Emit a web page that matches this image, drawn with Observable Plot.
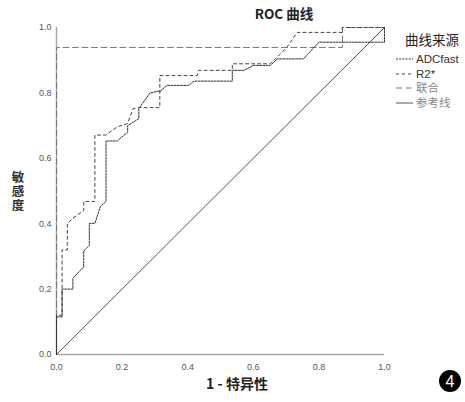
<!DOCTYPE html>
<html><head><meta charset="utf-8">
<script src="https://cdn.jsdelivr.net/npm/d3@7"></script>
<script src="https://cdn.jsdelivr.net/npm/@observablehq/plot@0.6"></script>
<style>body{margin:0;background:#fff;} #chart{width:465px;height:402px;}</style>
</head><body><div id="chart"></div>
<script>
// ---- data ----
const adcX = [0,0,0.017,0.017,0.05,0.05,0.083,0.083,0.1,0.1,0.117,0.134,0.151,0.151,0.185,0.217,0.217,0.251,0.251,0.285,0.317,0.337,0.403,0.419,0.536,0.536,0.571,0.60,0.652,0.673,0.753,0.80,1,1];
const adcY = [0,0.115,0.115,0.2,0.2,0.233,0.268,0.316,0.334,0.401,0.401,0.453,0.468,0.653,0.653,0.68,0.70,0.721,0.752,0.80,0.806,0.823,0.823,0.836,0.836,0.869,0.869,0.884,0.884,0.904,0.904,0.955,0.955,1];
const r2X = [0,0,0.017,0.017,0.033,0.033,0.05,0.083,0.083,0.117,0.117,0.15,0.185,0.216,0.234,0.251,0.315,0.315,0.429,0.434,0.536,0.536,0.652,0.683,0.703,0.734,0.871,0.871,1];
const r2Y = [0,0.12,0.12,0.32,0.32,0.40,0.417,0.44,0.468,0.468,0.671,0.671,0.696,0.706,0.752,0.755,0.755,0.853,0.853,0.869,0.869,0.889,0.889,0.92,0.94,0.985,0.985,1,1];
const combX = [0,0,0.872,0.872,1];
const combY = [0,0.939,0.939,1,1];
const refX = [0,1];
const refY = [0,1];
const seriesNames = ["ADCfast","R2*","联合","参考线"];
const seriesColors = ["#333","#444","#777","#555"];
const seriesDash = ["2,1.2","3,3","6,3.5",null];
const legendTextColors = ["#333","#333","#888","#888"];
const ticks = [0,0.2,0.4,0.6,0.8,1.0];
const titleText = "ROC 曲线";
const xLabel = "1 - 特异性";
const yLabel = "敏感度";
const legendTitle = "曲线来源";
const badge = "4";

const toRows = (xs, ys) => xs.map((x,i)=>({x, y: ys[i]}));
const seriesData = [toRows(adcX,adcY), toRows(r2X,r2Y), toRows(combX,combY), toRows(refX,refY)];

const font = "'Liberation Sans', Arial, 'Noto Sans CJK SC', sans-serif";
const cjk = "'Noto Sans CJK SC', 'Liberation Sans', sans-serif";

const lineMarks = seriesData.map((d,i)=>Plot.line(d,{x:"x",y:"y",stroke:seriesColors[i],strokeWidth:1,strokeDasharray:seriesDash[i]||undefined}));

const plot = Plot.plot({
  width:465, height:402,
  marginLeft:56, marginRight:81, marginTop:27, marginBottom:48,
  style:{fontFamily:font, background:"#fff", overflow:"visible"},
  x:{domain:[0,1]},
  y:{domain:[0,1]},
  marks:[
    Plot.axisX({ticks, tickFormat:d3.format(".1f"), tickSize:0, tickPadding:9, fill:"#555", fontSize:9, label:null}),
    Plot.axisY({ticks, tickFormat:d3.format(".1f"), tickSize:0, tickPadding:5, fill:"#555", fontSize:9, label:null}),
    Plot.ruleX([0],{stroke:"#aaa", strokeWidth:1.5}),
    Plot.ruleY([0],{stroke:"#aaa", strokeWidth:1.5}),
    ...lineMarks.reverse()
  ]
});
document.getElementById("chart").appendChild(plot);

const svg = d3.select(plot);
const g = svg.append("g").attr("text-anchor","start");
// title
g.append("text").attr("x",284).attr("y",19).attr("text-anchor","middle")
  .attr("font-family",cjk).attr("font-size",13.5).attr("font-weight","bold").attr("fill","#222").text(titleText);
// y label, stacked vertically as one text
g.append("text").attr("x",18).attr("y",171).attr("text-anchor","start")
  .style("writing-mode","vertical-rl").attr("letter-spacing",1.5)
  .attr("font-family",cjk).attr("font-size",12.5).attr("font-weight","bold").attr("fill","#333").text(yLabel);
// x label
g.append("text").attr("x",237).attr("y",389).attr("text-anchor","middle")
  .attr("font-family",cjk).attr("font-size",14).attr("font-weight","bold").attr("fill","#222").text(xLabel);
// legend
g.append("text").attr("x",405).attr("y",45).attr("text-anchor","start").attr("font-family",cjk).attr("font-size",13.5).attr("fill","#222").text(legendTitle);
const rowY = [59,74,88,103];
seriesNames.forEach((n,i)=>{
  g.append("line").attr("x1",396).attr("x2",413).attr("y1",rowY[i]).attr("y2",rowY[i])
    .attr("stroke",seriesColors[i]).attr("stroke-width",1).attr("stroke-dasharray",seriesDash[i]);
  g.append("text").attr("x",416).attr("y",rowY[i]+4).attr("text-anchor","start").attr("font-family",font).attr("font-size",11.5)
    .attr("fill",legendTextColors[i]).text(n);
});
// badge
g.append("circle").attr("cx",450).attr("cy",381).attr("r",11).attr("fill","#000");
g.append("text").attr("x",450).attr("y",387).attr("text-anchor","middle").attr("font-family",font)
  .attr("font-size",16).attr("fill","#fff").text(badge);
</script>
</body></html>
